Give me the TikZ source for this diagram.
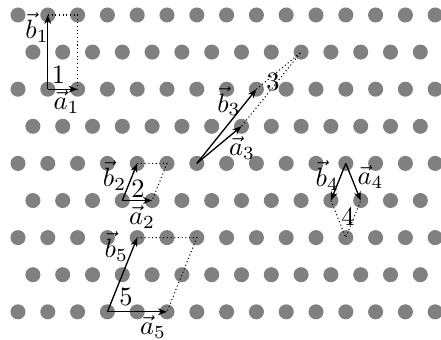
\documentclass[tikz,border=0pt]{standalone}
\usetikzlibrary{arrows.meta}
\begin{document}
\begin{tikzpicture}[x=11.26pt, y=14.02pt, >={Stealth[length=3.4pt,width=2.6pt]}, line width=0.5pt,
        cellside/.style={densely dotted, line width=0.4pt},
        cellnum/.style={inner sep=1pt}]
    \useasboundingbox (-0.604,-8.733) rectangle (14.195,0.404);

    % Lattice points (even rows / shifted odd rows)
    \foreach \j in {0,2,4,6,8}
        \foreach \i in {0,...,14}
            \fill[black!50] (\i,-\j) circle (2.84pt);
    \foreach \j in {1,3,5,7}
        \foreach \i in {0,...,13}
            \fill[black!50] (\i+0.5,-\j) circle (2.84pt);

    % Cell 1
    \coordinate (o1) at (1,-2);
    \coordinate (a1) at (2,-2);
    \coordinate (b1) at (1,0);
    \coordinate (c1) at (2,0);
    \draw[->] (o1) -- (a1);
    \draw[->] (o1) -- (b1);
    \draw[cellside] (b1) -- (c1) -- (a1);
    \node[cellnum] (l1) at (1.36,-1.62) {1};
    \node (la1) at (1.63,-2.34) {$\vec{a}_1$};
    \node (lb1) at (0.64,-0.34) {$\vec{b}_1$};

    % Cell 2
    \coordinate (o2) at (3.5,-5);
    \coordinate (a2) at (4.5,-5);
    \coordinate (b2) at (4,-4);
    \coordinate (c2) at (5,-4);
    \draw[->] (o2) -- (a2);
    \draw[->] (o2) -- (b2);
    \draw[cellside] (b2) -- (c2) -- (a2);
    \node[cellnum] (l2) at (4.03,-4.69) {2};
    \node (la2) at (4.16,-5.44) {$\vec{a}_2$};
    \node (lb2) at (3.24,-4.34) {$\vec{b}_2$};

    % Cell 3
    \coordinate (o3) at (6,-4);
    \coordinate (a3) at (7.5,-3);
    \coordinate (b3) at (8,-2);
    \coordinate (c3) at (9.5,-1);
    \draw[->] (o3) -- (a3);
    \draw[->] (o3) -- (b3);
    \draw[cellside] (b3) -- (c3) -- (a3);
    \node[cellnum] (l3) at (8.56,-1.81) {3};
    \node (la3) at (7.52,-3.59) {$\vec{a}_3$};
    \node (lb3) at (7.08,-2.32) {$\vec{b}_3$};

    % Cell 4
    \coordinate (o4) at (11,-4);
    \coordinate (a4) at (11.5,-5);
    \coordinate (b4) at (10.5,-5);
    \coordinate (c4) at (11,-6);
    \draw[->] (o4) -- (a4);
    \draw[->] (o4) -- (b4);
    \draw[cellside] (b4) -- (c4) -- (a4);
    \node[cellnum] (l4) at (11.07,-5.44) {4};
    \node (la4) at (11.83,-4.37) {$\vec{a}_4$};
    \node (lb4) at (10.38,-4.34) {$\vec{b}_4$};

    % Cell 5
    \coordinate (o5) at (3,-8);
    \coordinate (a5) at (5,-8);
    \coordinate (b5) at (4,-6);
    \coordinate (c5) at (6,-6);
    \draw[->] (o5) -- (a5);
    \draw[->] (o5) -- (b5);
    \draw[cellside] (b5) -- (c5) -- (a5);
    \node[cellnum] (l5) at (3.62,-7.60) {5};
    \node (la5) at (4.53,-8.41) {$\vec{a}_5$};
    \node (lb5) at (3.30,-6.25) {$\vec{b}_5$};
\end{tikzpicture}
\end{document}
